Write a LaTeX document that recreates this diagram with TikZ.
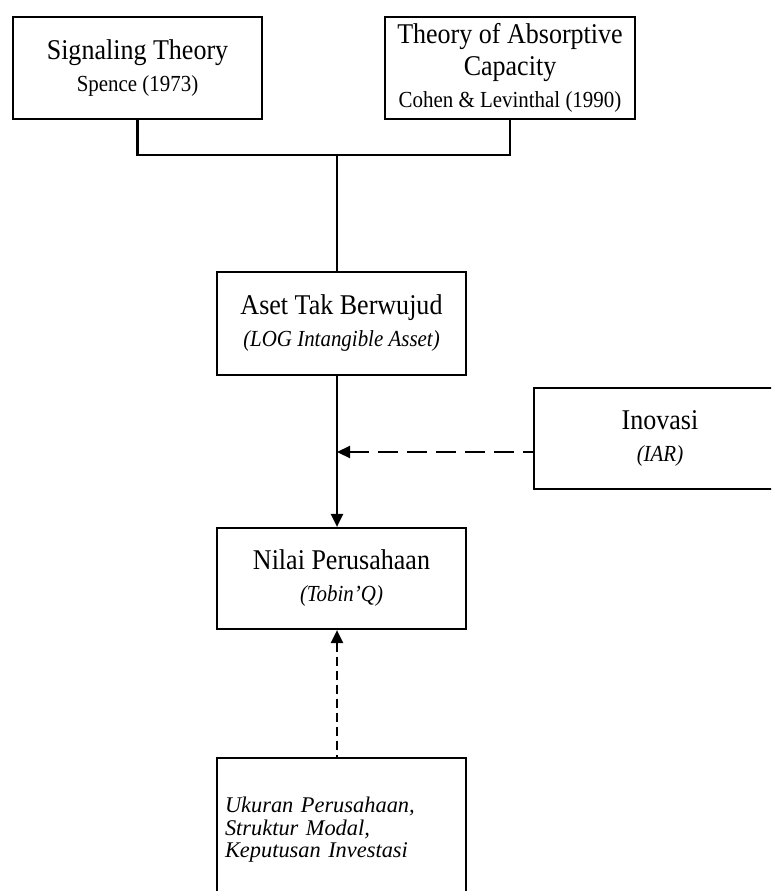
\documentclass[tikz,border=0pt]{standalone}
\usepackage{fontspec}
\setmainfont{Liberation Serif}[FakeStretch=0.91]
\newfontfamily\ctrlfont{Liberation Serif}
\usetikzlibrary{arrows.meta}

\newcommand{\subtxt}[1]{{\fontsize{23}{32}\selectfont #1}}
\newcommand{\subit}[1]{{\fontsize{23}{32}\selectfont\itshape #1}}

\begin{document}
\begin{tikzpicture}[x=1pt, y=-1pt, line width=2.2pt,
  box/.style={draw, rectangle, minimum width=249pt, minimum height=102pt,
    align=center, inner sep=0pt, font=\fontsize{28.6}{32}\selectfont},
  ctrlbox/.style={draw, rectangle, minimum height=144pt, text width=233pt,
    inner xsep=8pt, align=left, font=\ctrlfont\fontsize{22.4}{22.5}\selectfont\itshape},
  arr/.style={-{Triangle[length=13pt,width=12pt]}},
  dasharr/.style={{Triangle[length=13pt,width=12pt]}-, dash pattern=on 20pt off 9pt},
  dotarr/.style={{Triangle[length=13pt,width=12pt]}-, dash pattern=on 9pt off 5pt}]
\path[use as bounding box, clip] (0,0) rectangle (771,891);

% theories
\node[box] (signal) at (137.5,68) {Signaling Theory\\\subtxt{Spence (1973)}};
\node[box, minimum width=250pt] (absorb) at (510,68)
  {Theory of Absorptive\\Capacity\\\subtxt{Cohen \& Levinthal (1990)}};

% variables
\node[box, minimum height=103pt] (aset) at (341.5,323.5)
  {Aset Tak Berwujud\\\subit{(LOG Intangible Asset)}};
\node[box, minimum width=252pt, minimum height=101pt] (inovasi) at (660,438.5)
  {Inovasi\\\subit{(IAR)}};
\node[box, minimum height=101pt] (nilai) at (341.5,578.5)
  {Nilai Perusahaan\\\subit{(Tobin’Q)}};
\node[ctrlbox] (kontrol) at (341.5,830)
  {Ukuran Perusahaan,\\Struktur Modal,\\Keputusan Investasi};

% connectors
\coordinate (junc) at (337,155);
\coordinate (modin) at ([yshift=-13.5pt]inovasi.west);
\draw (signal.south) |- (junc) -| (absorb.south);
\draw (junc) -- (junc |- aset.north);
\draw[arr] (junc |- aset.south) -- (junc |- nilai.north);
\draw[dasharr] (modin -| junc) -- (modin);
\draw[dotarr] (junc |- nilai.south) -- (junc |- kontrol.north);
\end{tikzpicture}
\end{document}
